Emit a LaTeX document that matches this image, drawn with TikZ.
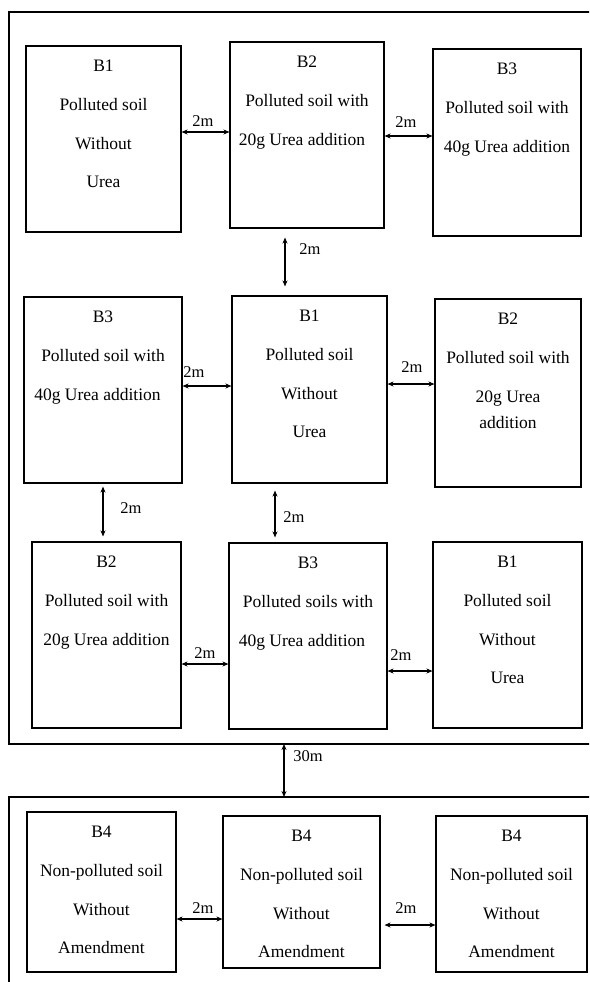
\documentclass[tikz,border=0pt]{standalone}
\usepackage{fontspec}
\setmainfont{Liberation Serif}
\usetikzlibrary{arrows.meta, calc}
\tikzset{
  plotbox/.style={
    rectangle, draw=black, line width=1.1pt, inner sep=0pt,
    font=\fontsize{17.5}{38.8}\selectfont
  },
  gaparrow/.style={
    {Stealth[length=6pt,width=5pt]}-{Stealth[length=6pt,width=5pt]},
    line width=1.1pt
  },
  gaplabel/.style={inner sep=0pt, font=\fontsize{16.5}{18}\selectfont},
  fieldframe/.style={line width=1.1pt},
}
\newcommand{\plotcell}[3]{\parbox[c][#2][t]{#1}{\centering\rule{0pt}{25.5pt}#3}}

\begin{document}
\begin{tikzpicture}[x=1pt, y=-1pt]
    \clip (0,0) rectangle (589,982);
    \fill[white] (0,0) rectangle (589,982);

    \draw[fieldframe] (600,12) -| (9,744) -- (600,744);
    \draw[fieldframe] (600,797) -| (9,995);

    \node[plotbox] (r1a) at (103.5,139)  {\plotcell{155pt}{186pt}{B1\\Polluted soil\\Without\\Urea}};
    \node[plotbox] (r1b) at (307,135)    {\plotcell{154pt}{186pt}{B2\\Polluted soil with\\20g Urea addition\kern10pt}};
    \node[plotbox] (r1c) at (507,142.5)  {\plotcell{148pt}{187pt}{B3\\Polluted soil with\\40g Urea addition}};

    \node[plotbox] (r2a) at (103,390)    {\plotcell{158pt}{186pt}{B3\\Polluted soil with\\40g Urea addition\kern11pt}};
    \node[plotbox] (r2b) at (309.5,389.5){\plotcell{155pt}{187pt}{B1\\Polluted soil\\Without\\Urea}};
    \node[plotbox] (r2c) at (508,393)    {\plotcell{146pt}{188pt}{B2\\Polluted soil with\\20g Urea\\[-12.8pt]addition}};

    \node[plotbox] (r3a) at (106.5,635)  {\plotcell{149pt}{186pt}{B2\\Polluted soil with\\20g Urea addition}};
    \node[plotbox] (r3b) at (308,636)    {\plotcell{158pt}{186pt}{B3\\Polluted soils with\\40g Urea addition\kern12pt}};
    \node[plotbox] (r3c) at (507.5,635)  {\plotcell{149pt}{186pt}{B1\\Polluted soil\\Without\\Urea}};

    \node[plotbox] (r4a) at (101.5,892)  {\plotcell{149pt}{160pt}{B4\\Non-polluted soil\\Without\\Amendment}};
    \node[plotbox] (r4b) at (301.5,892)  {\plotcell{157pt}{152pt}{B4\\Non-polluted soil\\Without\\Amendment}};
    \node[plotbox] (r4c) at (511.5,894)  {\plotcell{151pt}{156pt}{B4\\Non-polluted soil\\Without\\Amendment}};

    \draw[gaparrow] (r1a.east |- 0,132) -- (r1b.west |- 0,132);
    \draw[gaparrow] (r1b.east |- 0,136) -- (r1c.west |- 0,136);
    \draw[gaparrow, shorten <=9pt, shorten >=9pt] (285,0 |- r1b.south) -- (285,0 |- r2b.north);
    \draw[gaparrow] (r2a.east |- 0,386) -- (r2b.west |- 0,386);
    \draw[gaparrow] (r2b.east |- 0,384) -- (r2c.west |- 0,384);
    \draw[gaparrow, shorten <=3pt, shorten >=5pt] (103,0 |- r2a.south) -- (103,0 |- r3a.north);
    \draw[gaparrow, shorten <=7pt, shorten >=5pt] (275,0 |- r2b.south) -- (275,0 |- r3b.north);
    \draw[gaparrow] (r3a.east |- 0,664) -- (r3b.west |- 0,664);
    \draw[gaparrow] (r3b.east |- 0,671) -- (r3c.west |- 0,671);

    \coordinate (upedge)  at (284,744);
    \coordinate (lowedge) at (284,797);
    \draw[gaparrow] (upedge) -- (lowedge);

    \draw[gaparrow] (r4a.east |- 0,919) -- (r4b.west |- 0,919);
    \draw[gaparrow, shorten <=4pt] (r4b.east |- 0,925) -- (r4c.west |- 0,925);

    \node[gaplabel] (l1)  at (203,121) {2m};
    \node[gaplabel] (l2)  at (406,122) {2m};
    \node[gaplabel] (l3)  at (310,249) {2m};
    \node[gaplabel] (l4)  at (194,372) {2m};
    \node[gaplabel] (l5)  at (412,367) {2m};
    \node[gaplabel] (l6)  at (131,508) {2m};
    \node[gaplabel] (l7)  at (294,517) {2m};
    \node[gaplabel] (l8)  at (205,653) {2m};
    \node[gaplabel] (l9)  at (401,655) {2m};
    \node[gaplabel] (l10) at (308,756) {30m};
    \node[gaplabel] (l11) at (203,908) {2m};
    \node[gaplabel] (l12) at (406,908) {2m};
\end{tikzpicture}
\end{document}
